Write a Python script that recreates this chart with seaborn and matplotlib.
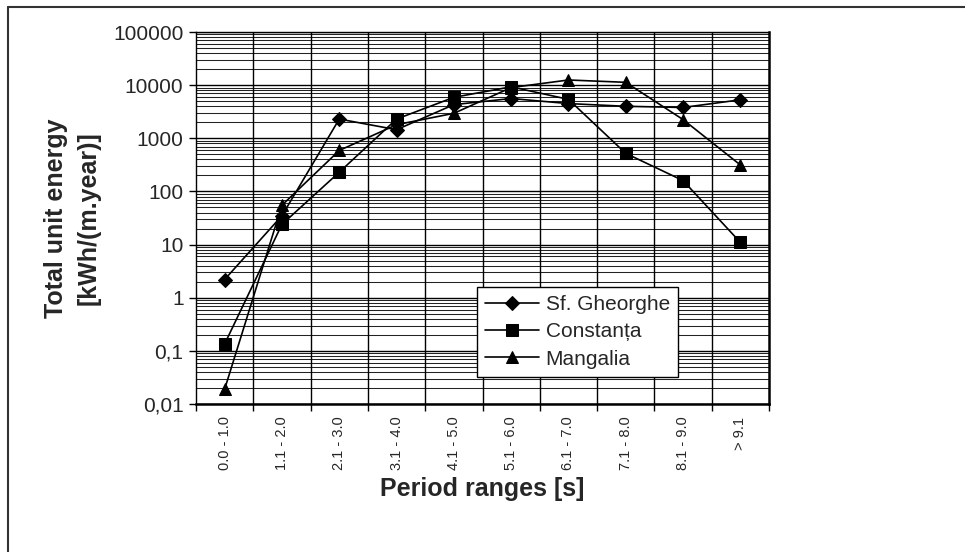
import numpy as np
import pandas as pd
import matplotlib
matplotlib.use("Agg")
import matplotlib.pyplot as plt
from matplotlib.lines import Line2D
from matplotlib.ticker import FixedLocator, NullFormatter
import seaborn as sns

categories = ["0.0 - 1.0", "1.1 - 2.0", "2.1 - 3.0", "3.1 - 4.0", "4.1 - 5.0",
              "5.1 - 6.0", "6.1 - 7.0", "7.1 - 8.0", "8.1 - 9.0", "> 9.1"]
sf_gheorghe = [2.2, 35, 2300, 1450, 4300, 5600, 4500, 4000, 3800, 5300]
constanta = [0.135, 24, 230, 2300, 5900, 9300, 5400, 520, 160, 11]
mangalia = [0.019, 55, 590, 1800, 2950, 9000, 12500, 11300, 2250, 315]
series_names = ["Sf. Gheorghe", "Constanța", "Mangalia"]
ytick_values = [0.01, 0.1, 1, 10, 100, 1000, 10000, 100000]
ytick_labels = ["0,01", "0,1", "1", "10", "100", "1000", "10000", "100000"]

sns.set_style("white")
plt.rcParams["font.family"] = ["Liberation Sans", "DejaVu Sans"]

rows = []
for name, vals in zip(series_names, [sf_gheorghe, constanta, mangalia]):
    for i, v in enumerate(vals):
        rows.append({"pos": i, "value": v, "series": name})
df = pd.DataFrame(rows)

fig = plt.figure(figsize=(9.65, 5.52), dpi=100)
ax = fig.add_axes([196/965, 1-404/552, (769-196)/965, (404-32)/552])

ax.set_yscale("log")
ax.set_ylim(0.01, 100000)
ax.set_xlim(-0.5, len(categories)-0.5)

# gridlines (Excel-like): minor at 2..9 per decade, major at decades, vertical at boundaries
for dec in range(-2, 5):
    for m in range(2, 10):
        ax.axhline(m*10.0**dec, color="#222222", lw=0.75, zorder=0.5)
for v in ytick_values:
    ax.axhline(v, color="black", lw=1.0, zorder=0.6)
for b in np.arange(0.5, len(categories)-0.5, 1.0):
    ax.axvline(b, color="black", lw=1.0, zorder=0.6)

sns.lineplot(data=df, x="pos", y="value", hue="series", style="series",
             hue_order=series_names, style_order=series_names,
             palette=["black"]*3, markers={"Sf. Gheorghe": "D", "Constanța": "s", "Mangalia": "^"},
             dashes=False, linewidth=1.2, markeredgecolor="black", ax=ax, zorder=3)

sizes = {"Sf. Gheorghe": 7, "Constanța": 9, "Mangalia": 9}
lines_data = [l for l in ax.get_lines() if len(l.get_xdata()) == len(categories)]
for l, name in zip(lines_data, series_names):
    l.set_markersize(sizes[name])

ax.yaxis.set_major_locator(FixedLocator(ytick_values))
ax.set_yticklabels(ytick_labels)
ax.yaxis.set_minor_formatter(NullFormatter())
ax.yaxis.set_minor_locator(FixedLocator([]))
ax.tick_params(axis="y", which="major", left=True, length=5, width=1, color="black",
               labelsize=15, pad=4)

ax.set_xticks(np.arange(len(categories)))
ax.set_xticklabels(categories, rotation=90, fontsize=10.5)
ax.xaxis.set_minor_locator(FixedLocator(np.arange(-0.5, len(categories), 1.0)))
ax.tick_params(axis="x", which="major", bottom=False, length=0, pad=9)
ax.tick_params(axis="x", which="minor", bottom=True, length=5, width=1, color="black")

ax.set_xlabel("Period ranges [s]", fontsize=18, fontweight="bold", labelpad=5)
ax.set_ylabel("Total unit energy\n[kWh/(m.year)]", fontsize=18, fontweight="bold",
              labelpad=9, linespacing=1.45)

for s in ax.spines.values():
    s.set_visible(True)
    s.set_color("black")
    s.set_linewidth(1.8)
ax.spines["left"].set_linewidth(1.0)
ax.spines["top"].set_linewidth(1.0)

handles, labels = ax.get_legend_handles_labels()
for h, name in zip(handles, labels):
    h.set_markersize(sizes.get(name, 8))
leg = ax.legend(handles, labels, loc="lower left", bbox_to_anchor=(0.49, 0.0726),
                fontsize=15, frameon=True, fancybox=False, framealpha=1,
                edgecolor="black", handlelength=2.6, labelspacing=0.4,
                borderpad=0.4, handletextpad=0.3, borderaxespad=0)
leg.get_frame().set_linewidth(1.0)

# outer chart frame (top and left edges visible)
fig.add_artist(Line2D([8/965, 1.0], [1-7/552, 1-7/552], transform=fig.transFigure,
                      color="#333333", lw=1.5))
fig.add_artist(Line2D([8/965, 8/965], [0.0, 1-7/552], transform=fig.transFigure,
                      color="#333333", lw=1.5))

fig.savefig("out.png", dpi=100)
